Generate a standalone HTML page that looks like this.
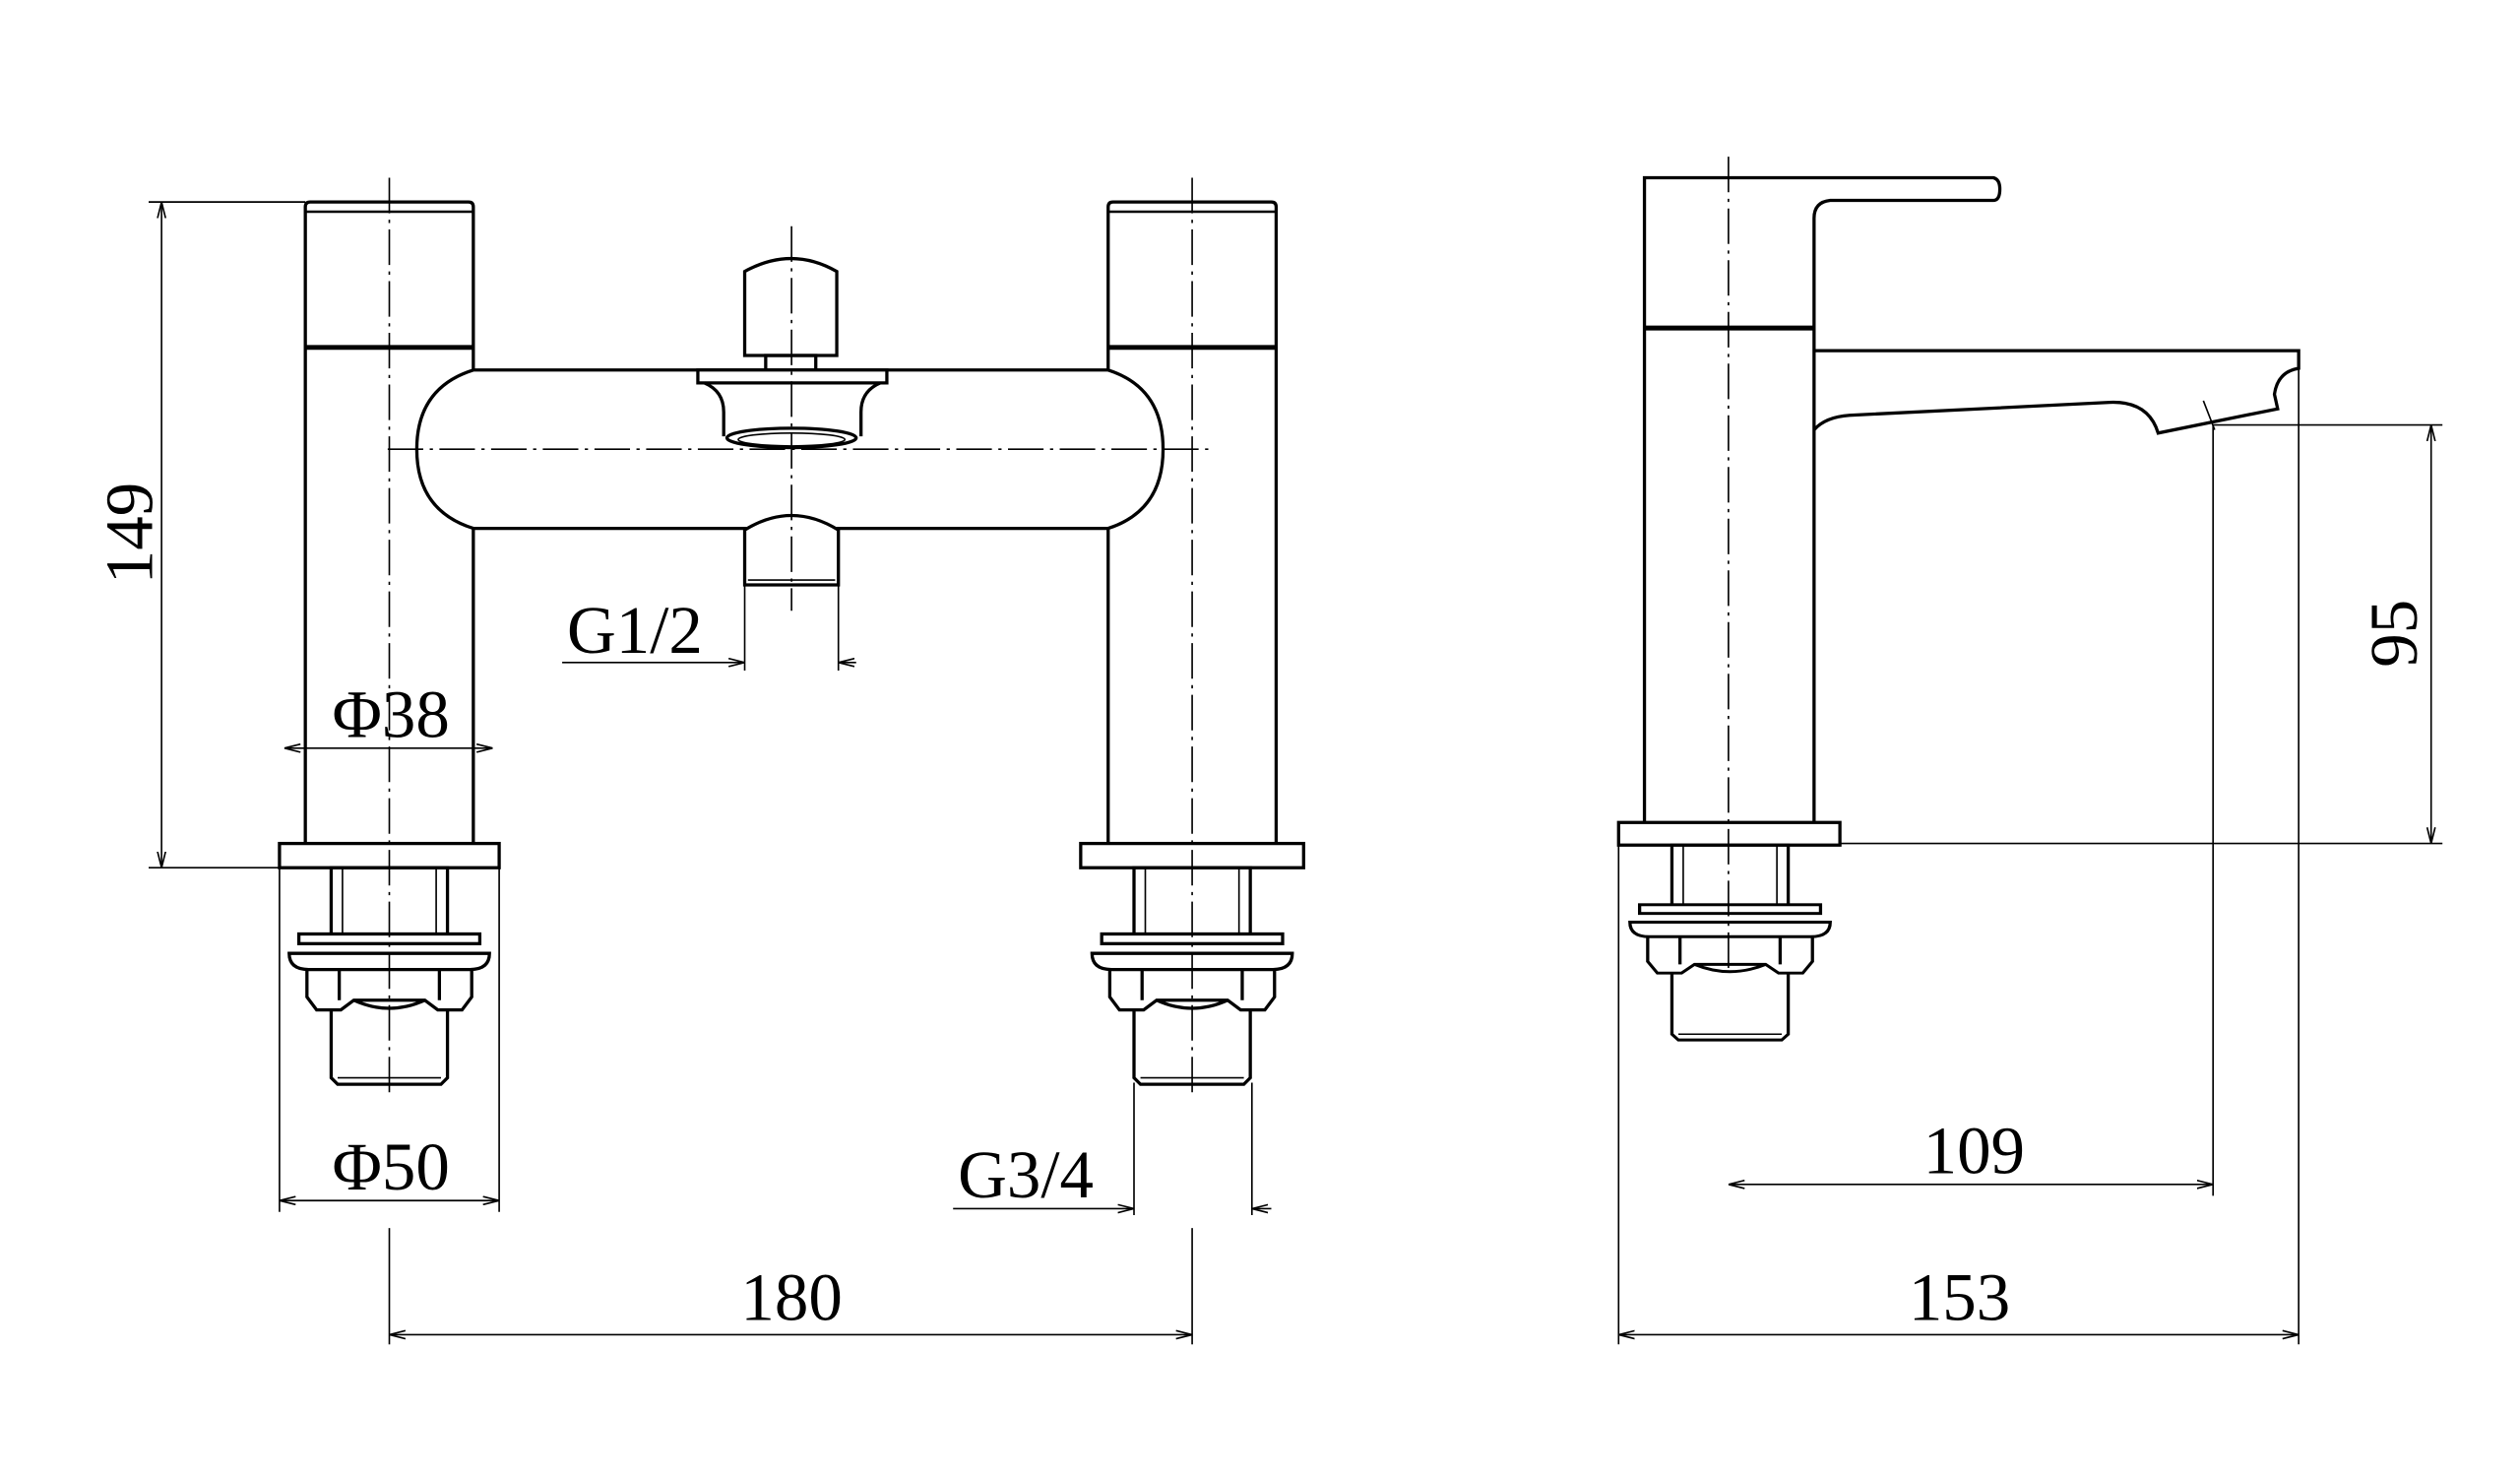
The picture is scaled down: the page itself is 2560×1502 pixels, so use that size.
<!DOCTYPE html>
<html><head><meta charset="utf-8"><style>html,body{margin:0;padding:0;background:#fff}svg{display:block}</style></head>
<body>
<svg width="2560" height="1502" viewBox="0 0 1560 915.3" xmlns="http://www.w3.org/2000/svg">
<defs>
<marker id="a" viewBox="0 0 10 6" refX="10" refY="3" markerWidth="10" markerHeight="6" orient="auto-start-reverse" markerUnits="userSpaceOnUse"><path d="M0,0.5 L10,3 L0,5.5" fill="none" stroke="#000" stroke-width="1"/></marker>
<g id="fit">
 <rect x="-36" y="0" width="72" height="43" fill="none" stroke="#000" stroke-width="2"/>
 <line x1="-29" y1="0" x2="-29" y2="43" stroke="#000" stroke-width="1"/>
 <line x1="29" y1="0" x2="29" y2="43" stroke="#000" stroke-width="1"/>
 <rect x="-56" y="41" width="112" height="6" fill="#fff" stroke="#000" stroke-width="2"/>
 <path d="M-62,53 Q-62,63 -50,63 L50,63 Q62,63 62,53 Z" fill="#fff" stroke="#000" stroke-width="2"/>
 <path d="M-51,63 L-51,80 L-45,88 L-30,88 L-22,82 L22,82 L30,88 L45,88 L51,80 L51,63 M-31,63 L-31,82 M31,63 L31,82 M-22,82 Q0,92 22,82" fill="none" stroke="#000" stroke-width="2"/>
 <path d="M-36,88 L-36,130 L-32,134 L32,134 L36,130 L36,88" fill="none" stroke="#000" stroke-width="2"/>
 <line x1="-32" y1="130" x2="32" y2="130" stroke="#000" stroke-width="1"/>
</g>
</defs>
<g fill="none" stroke="#000" stroke-width="2">
 <!-- left pillar -->
 <path d="M189,522 L189,128 Q189,125 192,125 L290,125 Q293,125 293,128 L293,229 M293,327 L293,522"/>
 <line x1="189" y1="131" x2="293" y2="131" stroke-width="1.5"/>
 <line x1="189" y1="215" x2="293" y2="215" stroke-width="3"/>
 <rect x="173" y="522" width="136" height="15"/>
 <!-- right pillar -->
 <path d="M790,522 L790,128 Q790,125 787,125 L689,125 Q686,125 686,128 L686,229 M686,327 L686,522"/>
 <line x1="686" y1="131" x2="790" y2="131" stroke-width="1.5"/>
 <line x1="686" y1="215" x2="790" y2="215" stroke-width="3"/>
 <rect x="669" y="522" width="138" height="15"/>
 <!-- body -->
 <path d="M293,229 L686,229 Q720,240 720,278 Q720,316 686,327 L293,327 Q258,316 258,278 Q258,240 293,229 Z" fill="#fff"/>
 <!-- diverter -->
 <path d="M461,220 L461,168 Q490,152 518,168 L518,220 Z"/>
 <rect x="474" y="220" width="31" height="10"/>
 <path d="M432,229 L549,229 L549,237 L432,237 Z" fill="#fff"/>
 <path d="M436,237 Q448,242 448,255 L448,270 M545,237 Q533,242 533,255 L533,270"/>
 <ellipse cx="490" cy="271" rx="40" ry="6"/>
 <ellipse cx="490" cy="272" rx="33" ry="4" stroke-width="1"/>
 <!-- outlet -->
 <path d="M461,362 L461,328 Q490,310 519,328 L519,362 Z" fill="#fff"/>
 <line x1="463" y1="359" x2="517" y2="359" stroke-width="1"/>
 <!-- right view -->
 <path d="M1018,509 L1018,110 L1234,110 Q1238,111 1238,117 Q1238,124 1234,124 L1133,124 Q1123,125 1123,135 L1123,509"/>
 <line x1="1018" y1="203" x2="1123" y2="203" stroke-width="3"/>
 <path d="M1123,217 L1423,217 L1423,228 Q1410,230 1408,244 L1410,253 L1336,268 Q1330,248 1306,249 L1145,257 Q1130,258 1123,266"/>
 <rect x="1002" y="509" width="137" height="14"/>
</g>
<use href="#fit" x="241" y="537"/>
<use href="#fit" x="738" y="537"/>
<use href="#fit" x="1071" y="523" transform="translate(1071,523) scale(1,0.9) translate(-1071,-523)"/>
<!-- centerlines -->
<g stroke="#000" stroke-width="1" stroke-dasharray="22,4,2,4" fill="none">
 <line x1="241" y1="110" x2="241" y2="680"/>
 <line x1="738" y1="110" x2="738" y2="680"/>
 <line x1="490" y1="140" x2="490" y2="378"/>
 <line x1="240" y1="278" x2="752" y2="278"/>
 <line x1="1070" y1="97" x2="1070" y2="600"/>
</g>
<!-- dimensions -->
<g stroke="#000" stroke-width="1" fill="none">
 <line x1="92" y1="125" x2="189" y2="125"/>
 <line x1="92" y1="537" x2="173" y2="537"/>
 <line x1="100" y1="125" x2="100" y2="537" marker-start="url(#a)" marker-end="url(#a)"/>
 <line x1="348" y1="410" x2="461" y2="410" marker-end="url(#a)"/>
 <line x1="519" y1="410" x2="530" y2="410" marker-start="url(#a)"/>
 <line x1="461" y1="362" x2="461" y2="415"/>
 <line x1="519" y1="362" x2="519" y2="415"/>
 <line x1="176" y1="463" x2="305" y2="463" marker-start="url(#a)" marker-end="url(#a)"/>
 <line x1="173" y1="537" x2="173" y2="750"/>
 <line x1="309" y1="537" x2="309" y2="750"/>
 <line x1="173" y1="743" x2="309" y2="743" marker-start="url(#a)" marker-end="url(#a)"/>
 <line x1="702" y1="670" x2="702" y2="752"/>
 <line x1="775" y1="670" x2="775" y2="752"/>
 <line x1="590" y1="748" x2="702" y2="748" marker-end="url(#a)"/>
 <line x1="775" y1="748" x2="787" y2="748" marker-start="url(#a)"/>
 <line x1="241" y1="760" x2="241" y2="832"/>
 <line x1="738" y1="760" x2="738" y2="832"/>
 <line x1="241" y1="826" x2="738" y2="826" marker-start="url(#a)" marker-end="url(#a)"/>
 <line x1="1370" y1="263" x2="1512" y2="263"/>
 <line x1="1139" y1="522" x2="1512" y2="522"/>
 <line x1="1505" y1="263" x2="1505" y2="522" marker-start="url(#a)" marker-end="url(#a)"/>
 <line x1="1370" y1="263" x2="1370" y2="740"/>
 <line x1="1364" y1="248" x2="1371" y2="266"/>
 <line x1="1070" y1="733" x2="1370" y2="733" marker-start="url(#a)" marker-end="url(#a)"/>
 <line x1="1002" y1="523" x2="1002" y2="832"/>
 <line x1="1423" y1="228" x2="1423" y2="832"/>
 <line x1="1002" y1="826" x2="1423" y2="826" marker-start="url(#a)" marker-end="url(#a)"/>
</g>
<g font-family="Liberation Serif, serif" font-size="42" fill="#000" text-anchor="middle">
 <text x="94" y="330" transform="rotate(-90 94 330)" dy="0">149</text>
 <text x="393" y="404">G1/2</text>
 <text x="242" y="456">Φ38</text>
 <text x="242" y="736">Φ50</text>
 <text x="635" y="741">G3/4</text>
 <text x="490" y="817">180</text>
 <text x="1222" y="726">109</text>
 <text x="1213" y="817">153</text>
 <text x="1496" y="392" transform="rotate(-90 1496 392)">95</text>
</g>
</svg>
</body></html>
